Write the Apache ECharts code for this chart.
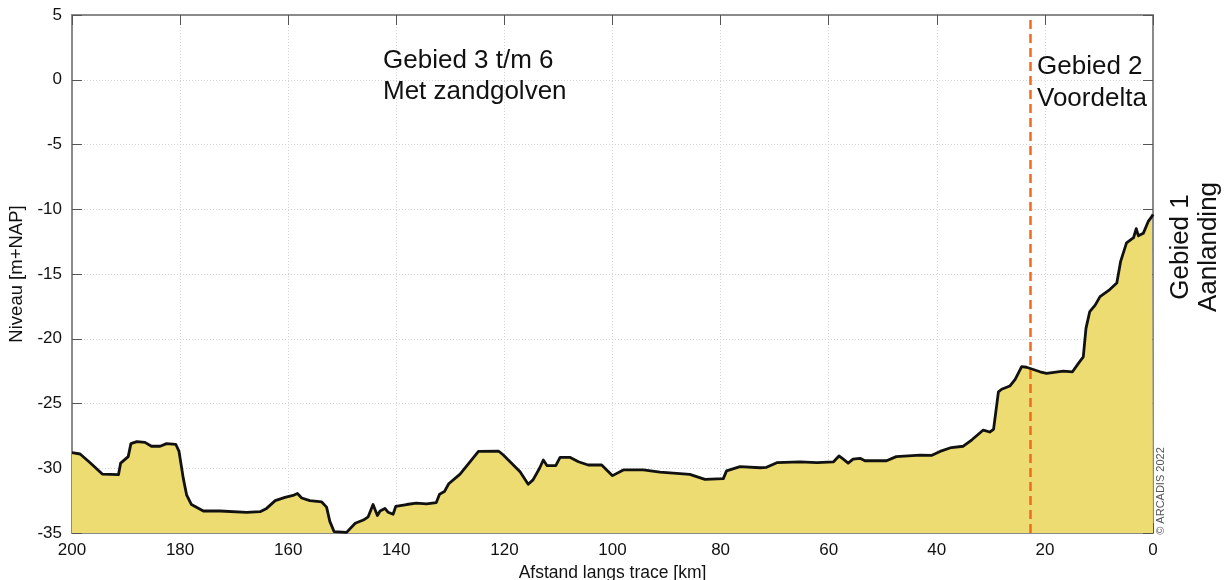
<!DOCTYPE html>
<html>
<head>
<meta charset="utf-8">
<script src="https://cdn.jsdelivr.net/npm/echarts@6/dist/echarts.min.js"></script>
<style>
  html, body { margin: 0; padding: 0; background: #fff; }
  #chart { width: 1226px; height: 580px; }
</style>
</head>
<body>
<div id="chart"></div>
<script>
// Bottom profile along the cable route: distance (km) and bed level (m+NAP)
const distanceKm = [
  200.0, 198.5, 196.6, 194.4, 191.4, 191.0, 189.6, 189.1, 188.0, 186.5,
  185.3, 183.7, 182.5, 180.8, 180.2, 179.4, 178.8, 177.9, 175.7, 172.6,
  167.7, 165.2, 164.0, 162.4, 160.6, 159.1, 158.3, 157.5, 156.0, 153.8,
  152.9, 152.3, 151.5, 149.2, 147.6, 146.1, 145.2, 144.3, 143.5, 143.0,
  142.1, 141.5, 140.6, 140.1, 138.1, 136.3, 134.4, 132.6, 132.0, 131.1,
  130.3, 128.2, 124.8, 121.1, 120.2, 117.1, 115.6, 114.7, 113.5, 113.3,
  112.8, 112.1, 110.5, 109.7, 107.9, 106.3, 104.5, 102.0, 100.0, 98.0,
  94.3, 91.2, 85.7, 82.9, 79.5, 78.9, 76.4, 72.7, 71.5, 69.6,
  65.3, 62.2, 59.1, 58.1, 57.3, 56.4, 55.5, 54.2, 53.3, 49.3,
  47.5, 43.1, 40.9, 39.4, 37.3, 35.1, 33.5, 31.4, 30.2, 29.5,
  28.6, 28.0, 26.5, 25.5, 24.3, 23.4, 20.9, 19.7, 16.6, 14.9,
  13.8, 12.9, 12.4, 11.7, 10.7, 9.8, 8.0, 6.7, 6.0, 4.9,
  3.6, 3.1, 2.7, 1.8, 0.9, 0.2, 0.0
];
const levelM = [
  -28.8, -28.9, -29.6, -30.45, -30.5, -29.6, -29.1, -28.1, -27.95, -28.0,
  -28.3, -28.3, -28.1, -28.15, -28.7, -30.8, -32.05, -32.8, -33.3, -33.3,
  -33.4, -33.35, -33.1, -32.5, -32.25, -32.1, -31.95, -32.3, -32.5, -32.6,
  -33.0, -34.1, -34.9, -34.95, -34.25, -34.0, -33.75, -32.8, -33.65, -33.3,
  -33.1, -33.4, -33.55, -32.95, -32.8, -32.7, -32.75, -32.65, -32.0, -31.8,
  -31.2, -30.45, -28.7, -28.67, -28.98, -30.27, -31.24, -30.9, -30.0, -29.88,
  -29.36, -29.8, -29.8, -29.16, -29.16, -29.5, -29.75, -29.75, -30.57, -30.13,
  -30.13, -30.3, -30.47, -30.86, -30.8, -30.2, -29.88, -29.96, -29.93, -29.57,
  -29.5, -29.57, -29.5, -29.05, -29.3, -29.6, -29.3, -29.23, -29.42, -29.42,
  -29.1, -28.98, -29.0, -28.7, -28.4, -28.3, -27.8, -27.05, -27.2, -27.0,
  -24.1, -23.9, -23.65, -23.13, -22.16, -22.2, -22.55, -22.67, -22.5, -22.55,
  -21.9, -21.4, -19.2, -17.9, -17.4, -16.75, -16.2, -15.7, -14.05, -12.6,
  -12.2, -11.5, -12.05, -11.86, -10.96, -10.55, -10.4
];

// Boundary between Gebied 3-6 and Gebied 2 (km)
const zoneBoundaryKm = 22.8;

// Axis ranges and labels
const xRange = { min: 0, max: 200, interval: 20 };
const yRange = { min: -35, max: 5, interval: 5 };
const xAxisTitle = 'Afstand langs trace [km]';
const yAxisTitle = 'Niveau [m+NAP]';

const FONT = '"Liberation Sans", Arial, sans-serif';
const AXIS_GRAY = '#8a8a8a';

const profile = distanceKm.map((d, i) => [d, levelM[i]]);

const chart = echarts.init(document.getElementById('chart'), null, { renderer: 'canvas' });

const gridLine = { show: true, lineStyle: { color: '#d4d4d4', type: [1, 2], width: 1 } };
const tickInside = { show: true, inside: true, length: 10, lineStyle: { color: '#555', width: 1 } };
const boxLine = { show: true, onZero: false, lineStyle: { color: AXIS_GRAY, width: 2 } };

chart.setOption({
  animation: false,
  backgroundColor: '#ffffff',
  grid: { left: 72, right: 73, top: 15, bottom: 47, containLabel: false, outerBoundsMode: 'none' },
  xAxis: [
    {
      type: 'value', position: 'bottom', inverse: true,
      min: xRange.min, max: xRange.max, interval: xRange.interval,
      name: xAxisTitle, nameLocation: 'middle', nameGap: 31,
      nameTextStyle: { fontFamily: FONT, fontSize: 17.5, color: '#111' },
      axisLine: boxLine,
      axisTick: tickInside,
      axisLabel: { fontFamily: FONT, fontSize: 17, color: '#111', margin: 9 },
      splitLine: gridLine
    },
    {
      type: 'value', position: 'top', inverse: true,
      min: xRange.min, max: xRange.max, interval: xRange.interval,
      axisLine: boxLine,
      axisTick: tickInside,
      axisLabel: { show: false },
      splitLine: { show: false }
    }
  ],
  yAxis: [
    {
      type: 'value', position: 'left',
      min: yRange.min, max: yRange.max, interval: yRange.interval,
      name: yAxisTitle, nameLocation: 'middle', nameGap: 45, nameRotate: 90,
      nameTextStyle: { fontFamily: FONT, fontSize: 18.5, color: '#111' },
      axisLine: boxLine,
      axisTick: tickInside,
      axisLabel: { fontFamily: FONT, fontSize: 17, color: '#111', margin: 10 },
      splitLine: gridLine
    },
    {
      type: 'value', position: 'right',
      min: yRange.min, max: yRange.max, interval: yRange.interval,
      axisLine: boxLine,
      axisTick: tickInside,
      axisLabel: { show: false },
      splitLine: { show: false }
    }
  ],
  series: [
    {
      type: 'line',
      xAxisIndex: 0, yAxisIndex: 0,
      data: profile,
      showSymbol: false, symbol: 'none',
      lineStyle: { color: '#111', width: 2.8, join: 'round' },
      areaStyle: { color: '#EDDC72', opacity: 1, origin: 'start' },
      markLine: {
        silent: true, symbol: 'none',
        label: { show: false },
        lineStyle: { color: '#F26A1B', width: 2.5, type: [9, 5] },
        data: [{ xAxis: zoneBoundaryKm }]
      },
      z: 3
    }
  ],
  graphic: [
    {
      type: 'text', left: 383, top: 45, z: 10,
      style: { text: 'Gebied 3 t/m 6\nMet zandgolven', font: '26px ' + FONT, fill: '#111', lineHeight: 31 }
    },
    {
      type: 'text', left: 1037, top: 51, z: 10,
      style: { text: 'Gebied 2\nVoordelta', font: '26px ' + FONT, fill: '#111', lineHeight: 32 }
    },
    {
      type: 'text', x: 1195, y: 247, rotation: Math.PI / 2, z: 10,
      style: { text: 'Gebied 1\nAanlanding', font: '26px ' + FONT, fill: '#111', lineHeight: 28,
               align: 'center', verticalAlign: 'middle' }
    },
    {
      type: 'text', x: 1161, y: 491, rotation: Math.PI / 2, z: 10,
      style: { text: '© ARCADIS 2022', font: '11px ' + FONT, fill: '#555',
               align: 'center', verticalAlign: 'middle' }
    }
  ]
});
</script>
</body>
</html>
